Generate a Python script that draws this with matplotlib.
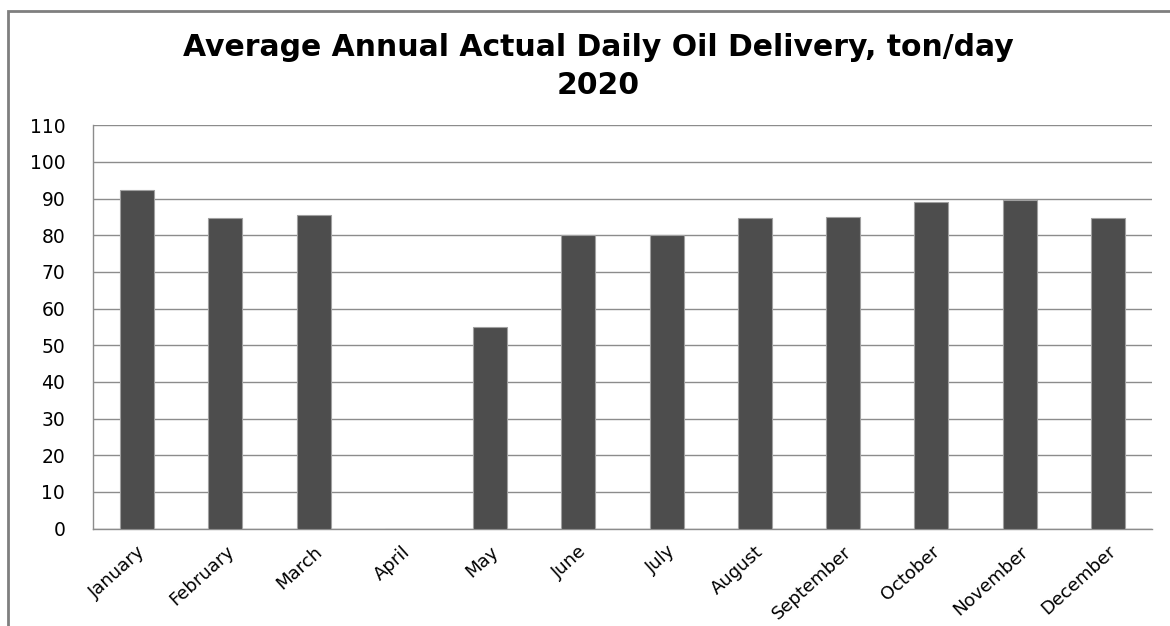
import numpy as np
import matplotlib.pyplot as plt
from matplotlib.patches import Rectangle

# Data
months = ['January', 'February', 'March', 'April', 'May', 'June', 'July',
          'August', 'September', 'October', 'November', 'December']
delivery = [92.3, 84.7, 85.5, 0, 55, 80.1, 80, 84.7, 85, 89.1, 89.6, 84.8]
yticks = np.arange(0, 111, 10)

plt.rcParams['font.family'] = ['DejaVu Sans']

fig = plt.figure(figsize=(11.7, 6.26), dpi=100)
ax = fig.add_axes([93/1170, 1 - 528.5/626, (1152 - 93)/1170, (528.5 - 125.3)/626])

x = np.arange(len(months))
ax.bar(x, delivery, width=0.385, color='#4d4d4d', edgecolor='#a0a0a0',
       linewidth=0.8, zorder=3)

ax.set_xlim(-0.5, len(months) - 0.5)
ax.set_ylim(0, 110)
ax.set_yticks(yticks)
ax.set_xticks(x)
ax.set_xticklabels(months, rotation=42, ha='right', rotation_mode='anchor',
                   fontsize=13)
ax.tick_params(axis='x', length=0, pad=10)
ax.tick_params(axis='y', length=0, pad=20, labelsize=13.5)
ax.grid(axis='y', color='#8c8c8c', linewidth=1.0, zorder=0)

for side in ['top', 'right']:
    ax.spines[side].set_visible(False)
for side in ['left', 'bottom']:
    ax.spines[side].set_color('#8c8c8c')
    ax.spines[side].set_linewidth(1.0)

# outer chart frame (cropped on right and bottom)
fig.patches.append(Rectangle((8/1170, -0.05), 1.2, 1 - 11/626 + 0.05,
                             transform=fig.transFigure, fill=False,
                             edgecolor='#7f7f7f', linewidth=2))

fig.text(598/1170, 1 - 47/626, 'Average Annual Actual Daily Oil Delivery, ton/day',
         ha='center', va='center', fontsize=21.5, fontweight='bold')
fig.text(598/1170, 1 - 86/626, '2020',
         ha='center', va='center', fontsize=21.5, fontweight='bold')

fig.savefig('out.png', dpi=100)
